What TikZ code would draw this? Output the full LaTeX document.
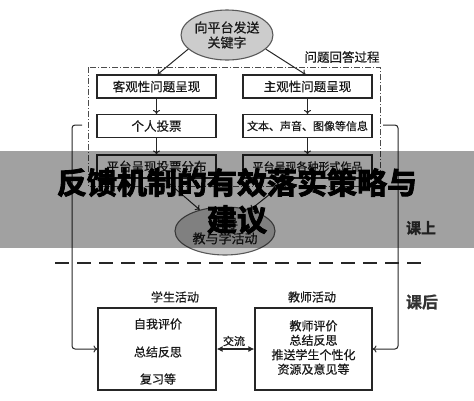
\documentclass[tikz,border=0pt]{standalone}
\usepackage{fontspec}
\setmainfont{Noto Sans CJK SC}[FakeBold=0.6]
\newfontfamily\bannerfont{Noto Sans CJK SC Bold}[FakeBold=3]
\newfontfamily\headfont{Noto Sans CJK SC Bold}[FakeBold=1]
\usetikzlibrary{arrows.meta,shapes.geometric}
\begin{document}
\begin{tikzpicture}[x=1pt,y=-1pt,
  box/.style={draw=black!85, line width=1.1pt, minimum width=119pt, minimum height=23pt, inner sep=0pt, text=black!90, font=\fontsize{12.5}{14}\selectfont},
  wbox/.style={box, minimum width=129pt},
  oval/.style={ellipse, draw=black!65, fill=black!20, line width=1.1pt, align=center, inner sep=0pt, text=black!90, font=\fontsize{13}{15}\selectfont},
  arr/.style={-{To[length=4pt,width=7pt]}, line width=1pt, draw=black!85},
  lbl/.style={text=black!90, font=\fontsize{12}{14}\selectfont, inner sep=0pt},
  big/.style={text=black!80, font=\headfont\fontsize{15}{17}\selectfont, inner sep=0pt}]
\useasboundingbox (0,0) rectangle (474,400);
% top part
\node[oval, minimum width=86pt, minimum height=50pt] (kw) at (227,35) {向平台发送\\关键字};
\draw[dash pattern=on 6pt off 2pt on 1pt off 2pt, line width=0.9pt, draw=black!70] (88,67) rectangle (380,186);
\node[lbl, font=\fontsize{12.5}{14}\selectfont] (proc) at (342,57) {问题回答过程};
\node[box] (obj) at (156.5,86.5) {客观性问题呈现};
\node[wbox] (sub) at (307.5,86.5) {主观性问题呈现};
\node[box] (vote) at (156.5,126) {个人投票};
\node[wbox, font=\fontsize{11}{13}\selectfont] (info) at (307.5,126) {文本、声音、图像等信息};
\node[box] (dist) at (156.5,166.5) {平台呈现投票分布};
\node[wbox, font=\fontsize{11}{13}\selectfont] (works) at (307.5,166.5) {平台呈现各种形式作品};
\node[oval, minimum width=100pt, minimum height=48pt] (guide) at (225,231) {引导\\教与学活动};
\draw[arr] (kw.200) -- ([xshift=1pt]obj.north);
\draw[arr] (kw.-20) -- ([xshift=-2pt]sub.north);
\draw[arr] (obj) -- (vote);
\draw[arr] (sub) -- (info);
\draw[arr] (vote) -- (dist);
\draw[arr] (info) -- (works);
\draw[arr] ([xshift=7pt]dist.south) -- (guide.140);
\draw[arr] ([xshift=-18pt]works.south) -- (guide.40);
% feedback lines
\coordinate (lA) at (82,125);
\coordinate (rA) at (383,125);
\node[box, minimum width=118pt, minimum height=82pt] (stud) at (157,349) {};
\node[box, minimum width=117pt, minimum height=82pt] (teach) at (313.5,349) {};
\draw[arr, rounded corners=3pt] (lA) -- (72,125) |- (stud.west);
\draw[arr, rounded corners=3pt] (rA) -- (398,125) |- (teach.east);
% divider
\coordinate (dL) at (55,263);
\coordinate (dR) at (425,263);
\draw[line width=1.5pt, draw=black!85, dash pattern=on 14pt off 8pt] (dL) -- (dR);
\node[big] (up) at (421,228) {课上};
\node[big, font=\headfont\fontsize{16}{18}\selectfont] (after) at (422,302) {课后};
% bottom part
\node[lbl] (sl) at (175,297) {学生活动};
\node[lbl] (tl) at (312,297) {教师活动};
\node[lbl] (s1) at (158,324) {自我评价};
\node[lbl] (s2) at (158,352) {总结反思};
\node[lbl] (s3) at (158,379) {复习等};
\node[lbl, align=center, font=\fontsize{12}{14.5}\selectfont] (t1) at (313.5,347.5) {教师评价\\总结反思\\推送学生个性化\\资源及意见等};
\draw[{Latex[length=6pt,width=6pt]}-{Latex[length=6pt,width=6pt]}, line width=1.5pt, draw=black!85] (stud.east) -- (teach.west);
\node[lbl, font=\fontsize{11}{13}\selectfont] (ex) at (234,341) {交流};
% banner
\fill[black, opacity=0.37] (0,151) rectangle (474,248);
\node[align=center, inner sep=0pt, text=black, font=\bannerfont\fontsize{30}{37}\selectfont] (title) at (237,201) {反馈机制的有效落实策略与\\建议};
\end{tikzpicture}
\end{document}
